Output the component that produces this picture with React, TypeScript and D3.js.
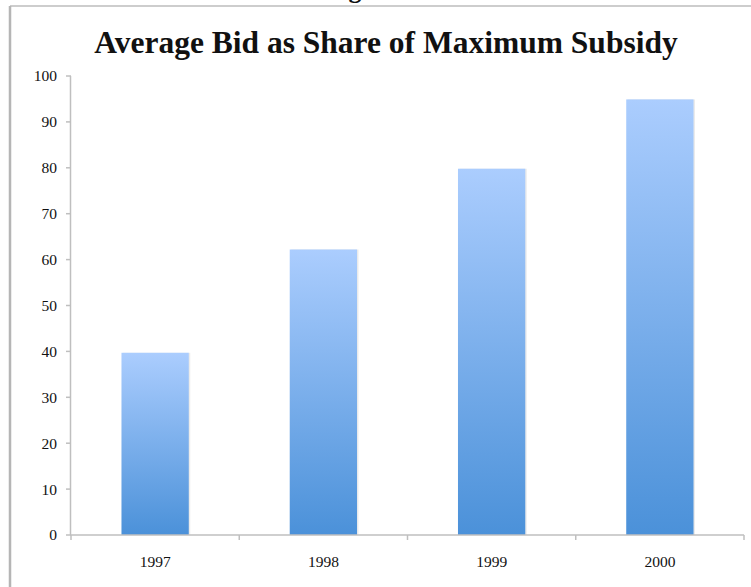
import React from 'react';
import * as d3 from 'd3';

const years = ['1997', '1998', '1999', '2000'];
const bidShare = [39.7, 62.2, 79.8, 94.9];
const yTicks = [0, 10, 20, 30, 40, 50, 60, 70, 80, 90, 100];

const W = 751;
const H = 587;
const margin = { top: 76, right: 7, bottom: 52, left: 71 };

const App: React.FC = () => {
  const x = d3.scaleBand<string>()
    .domain(years)
    .range([margin.left, W - margin.right])
    .paddingInner(0.6)
    .paddingOuter(0.3);

  const y = d3.scaleLinear()
    .domain([0, 100])
    .range([H - margin.bottom, margin.top]);

  const x0 = margin.left;
  const x1 = W - margin.right;
  const y0 = y(0);
  const boundaries = d3.range(years.length + 1).map(i => x0 + i * (x1 - x0) / years.length);

  const serif = '"Liberation Serif", "Times New Roman", serif';

  return (
    <svg width={W} height={H} style={{ position: 'absolute', left: 0, top: 0, background: '#fff' }}>
      <defs>
        <linearGradient id="barGrad" x1="0" y1="0" x2="0" y2="1">
          <stop offset="0%" stopColor="#abcdfe" />
          <stop offset="100%" stopColor="#4b91d9" />
        </linearGradient>
      </defs>

      {/* cadre de la diapositive */}
      <line x1={10} y1={6} x2={W} y2={6} stroke="#bdbdbd" strokeWidth={1.5} />
      <line x1={10} y1={6} x2={10} y2={H} stroke="#b5b5b5" strokeWidth={2.5} />
      <text x={355} y={-2} fontFamily={serif} fontWeight="bold" fontSize={26} textAnchor="middle" fill="#111">g</text>

      <text x={386} y={53} fontFamily={serif} fontWeight="bold" fontSize={31.5} textAnchor="middle" fill="#111">
        Average Bid as Share of Maximum Subsidy
      </text>

      {/* barres */}
      {years.map((yr, i) => (
        <g key={yr}>
          <rect x={(x(yr) ?? 0) + 1.5} y={y(bidShare[i])} width={x.bandwidth()} height={y0 - y(bidShare[i])} fill="#000" opacity={0.08} />
          <rect x={x(yr)} y={y(bidShare[i])} width={x.bandwidth()} height={y0 - y(bidShare[i])} fill="url(#barGrad)" />
        </g>
      ))}

      {/* axe Y */}
      <line x1={x0 - 0.5} y1={y(100)} x2={x0 - 0.5} y2={y0} stroke="#bfbfbf" strokeWidth={1.5} />
      {yTicks.map(t => (
        <g key={t}>
          <line x1={x0 - 5} y1={y(t)} x2={x0} y2={y(t)} stroke="#bfbfbf" strokeWidth={1.5} />
          <text x={57} y={y(t)} dy="0.35em" textAnchor="end" fontFamily={serif} fontSize={15.5} fill="#111">{t}</text>
        </g>
      ))}

      {/* axe X */}
      <line x1={x0 - 1} y1={y0} x2={x1} y2={y0} stroke="#bfbfbf" strokeWidth={1.5} />
      {boundaries.map((bx, i) => (
        <line key={i} x1={bx} y1={y0} x2={bx} y2={y0 + 5} stroke="#bfbfbf" strokeWidth={1.5} />
      ))}
      {years.map(yr => (
        <text key={yr} x={(x(yr) ?? 0) + x.bandwidth() / 2} y={567} textAnchor="middle" fontFamily={serif} fontSize={15.5} fill="#111">
          {yr}
        </text>
      ))}
    </svg>
  );
};

export default App;
